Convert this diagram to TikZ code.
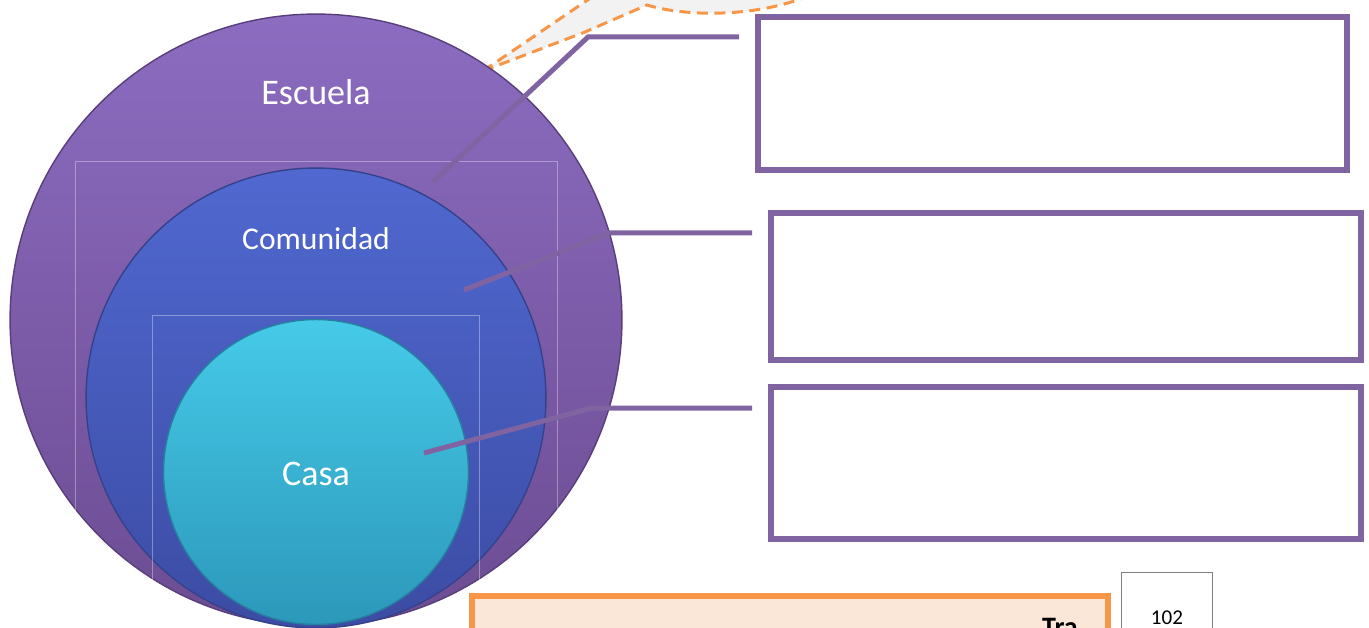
\documentclass[tikz,border=0pt]{standalone}
\usepackage{fontspec}
\setmainfont{Carlito}
\usetikzlibrary{positioning}
\definecolor{leaderpurple}{HTML}{8064A2}
\definecolor{noteorange}{HTML}{F79646}
\definecolor{notefill}{HTML}{FBE7D8}
\definecolor{calloutgray}{HTML}{F2F2F2}

\begin{document}
\begin{tikzpicture}[
    x=0.02cm, y=-0.02cm,
    ring/.style={circle, inner sep=0pt, line width=0.8pt},
    ringtext/.style={text=white, inner sep=0pt},
    faint/.style={draw=white, draw opacity=0.35, line width=0.5pt},
    leader/.style={draw=leaderpurple, line width=0.1cm},
    infobox/.style={rectangle, draw=leaderpurple, line width=0.12cm, inner sep=0pt, anchor=north west},
    callout/.style={draw=noteorange, line width=0.06cm, dash pattern=on 0.22cm off 0.13cm}
]
    \useasboundingbox (0,0) rectangle (1369,628);
    \clip (0,0) rectangle (1369,628);

    % callout at the top
    \fill[calloutgray] (483,71) -- (592,-3) -- (808,-4) .. controls (760,16) and (690,18) .. (647,5) -- (585,32) -- cycle;
    \draw[callout] (483,71) -- (592,-3);
    \draw[callout] (483,71) -- (585,32) -- (647,5) .. controls (690,18) and (760,16) .. (808,-4);

    % nested circles
    \node[ring, draw={rgb,255:red,88;green,62;blue,122}, top color={rgb,255:red,140;green,108;blue,192}, bottom color={rgb,255:red,108;green,76;blue,146}, minimum size=12.24cm] (escuela) at (316,320) {};
    \draw[faint] (75,640) -- (75,161) -- (557,161) -- (557,640);
    \node[ring, draw={rgb,255:red,52;green,66;blue,140}, top color={rgb,255:red,80;green,104;blue,208}, bottom color={rgb,255:red,60;green,76;blue,164}, minimum size=9.2cm] (comunidad) at (316,398) {};
    \draw[faint] (152,640) -- (152,315) -- (479,315) -- (479,640);
    \node[ring, draw={rgb,255:red,38;green,128;blue,160}, top color={rgb,255:red,70;green,202;blue,232}, bottom color={rgb,255:red,44;green,152;blue,186}, minimum size=6.1cm] (casa) at (316,472) {};

    \node[ringtext, font=\fontsize{20.5}{24}\selectfont] (escuela-t) at (316,92) {Escuela};
    \node[ringtext, font=\fontsize{18}{22}\selectfont] (comunidad-t) at (316,239) {Comunidad};
    \node[ringtext, font=\fontsize{20.5}{24}\selectfont] (casa-t) at (316,474) {Casa};

    % boxes on the right
    \node[infobox, minimum width=11.78cm, minimum height=3.06cm] (box1) at (755,14) {};
    \node[infobox, minimum width=11.8cm, minimum height=2.94cm] (box2) at (768,210) {};
    \node[infobox, minimum width=11.8cm, minimum height=3.04cm] (box3) at (768,384) {};

    % leader lines
    \coordinate (s1) at (433,182);
    \coordinate (k1) at (588,37);
    \coordinate (e1) at (739,37);
    \coordinate (s2) at (464,290);
    \coordinate (k2) at (609,233);
    \coordinate (e2) at (752,233);
    \coordinate (s3) at (424,453);
    \coordinate (k3) at (592,408);
    \coordinate (e3) at (752,408);
    \draw[leader] (s1) -- (k1) -- (e1);
    \draw[leader] (s2) -- (k2) -- (e2);
    \draw[leader] (s3) -- (k3) -- (e3);

    % note box and page number
    \node[rectangle, draw=noteorange, fill=notefill, line width=0.12cm, inner sep=0pt, anchor=north west, minimum width=12.72cm, minimum height=2cm] (note) at (469,593) {};
    \draw[noteorange, line width=0.08cm] (480,596) -- (633,596);
    \node[font=\bfseries\fontsize{16}{19}\selectfont, anchor=base, inner sep=0pt] (tra) at (1060,636) {Tra};
    \node[rectangle, draw=gray, line width=0.75pt, inner sep=0pt, anchor=north west, minimum width=1.82cm, minimum height=2cm] (page) at (1121,572) {};
    \node[font=\fontsize{12}{14}\selectfont, inner sep=0pt] (page-t) at (1167,618) {102};
\end{tikzpicture}
\end{document}
